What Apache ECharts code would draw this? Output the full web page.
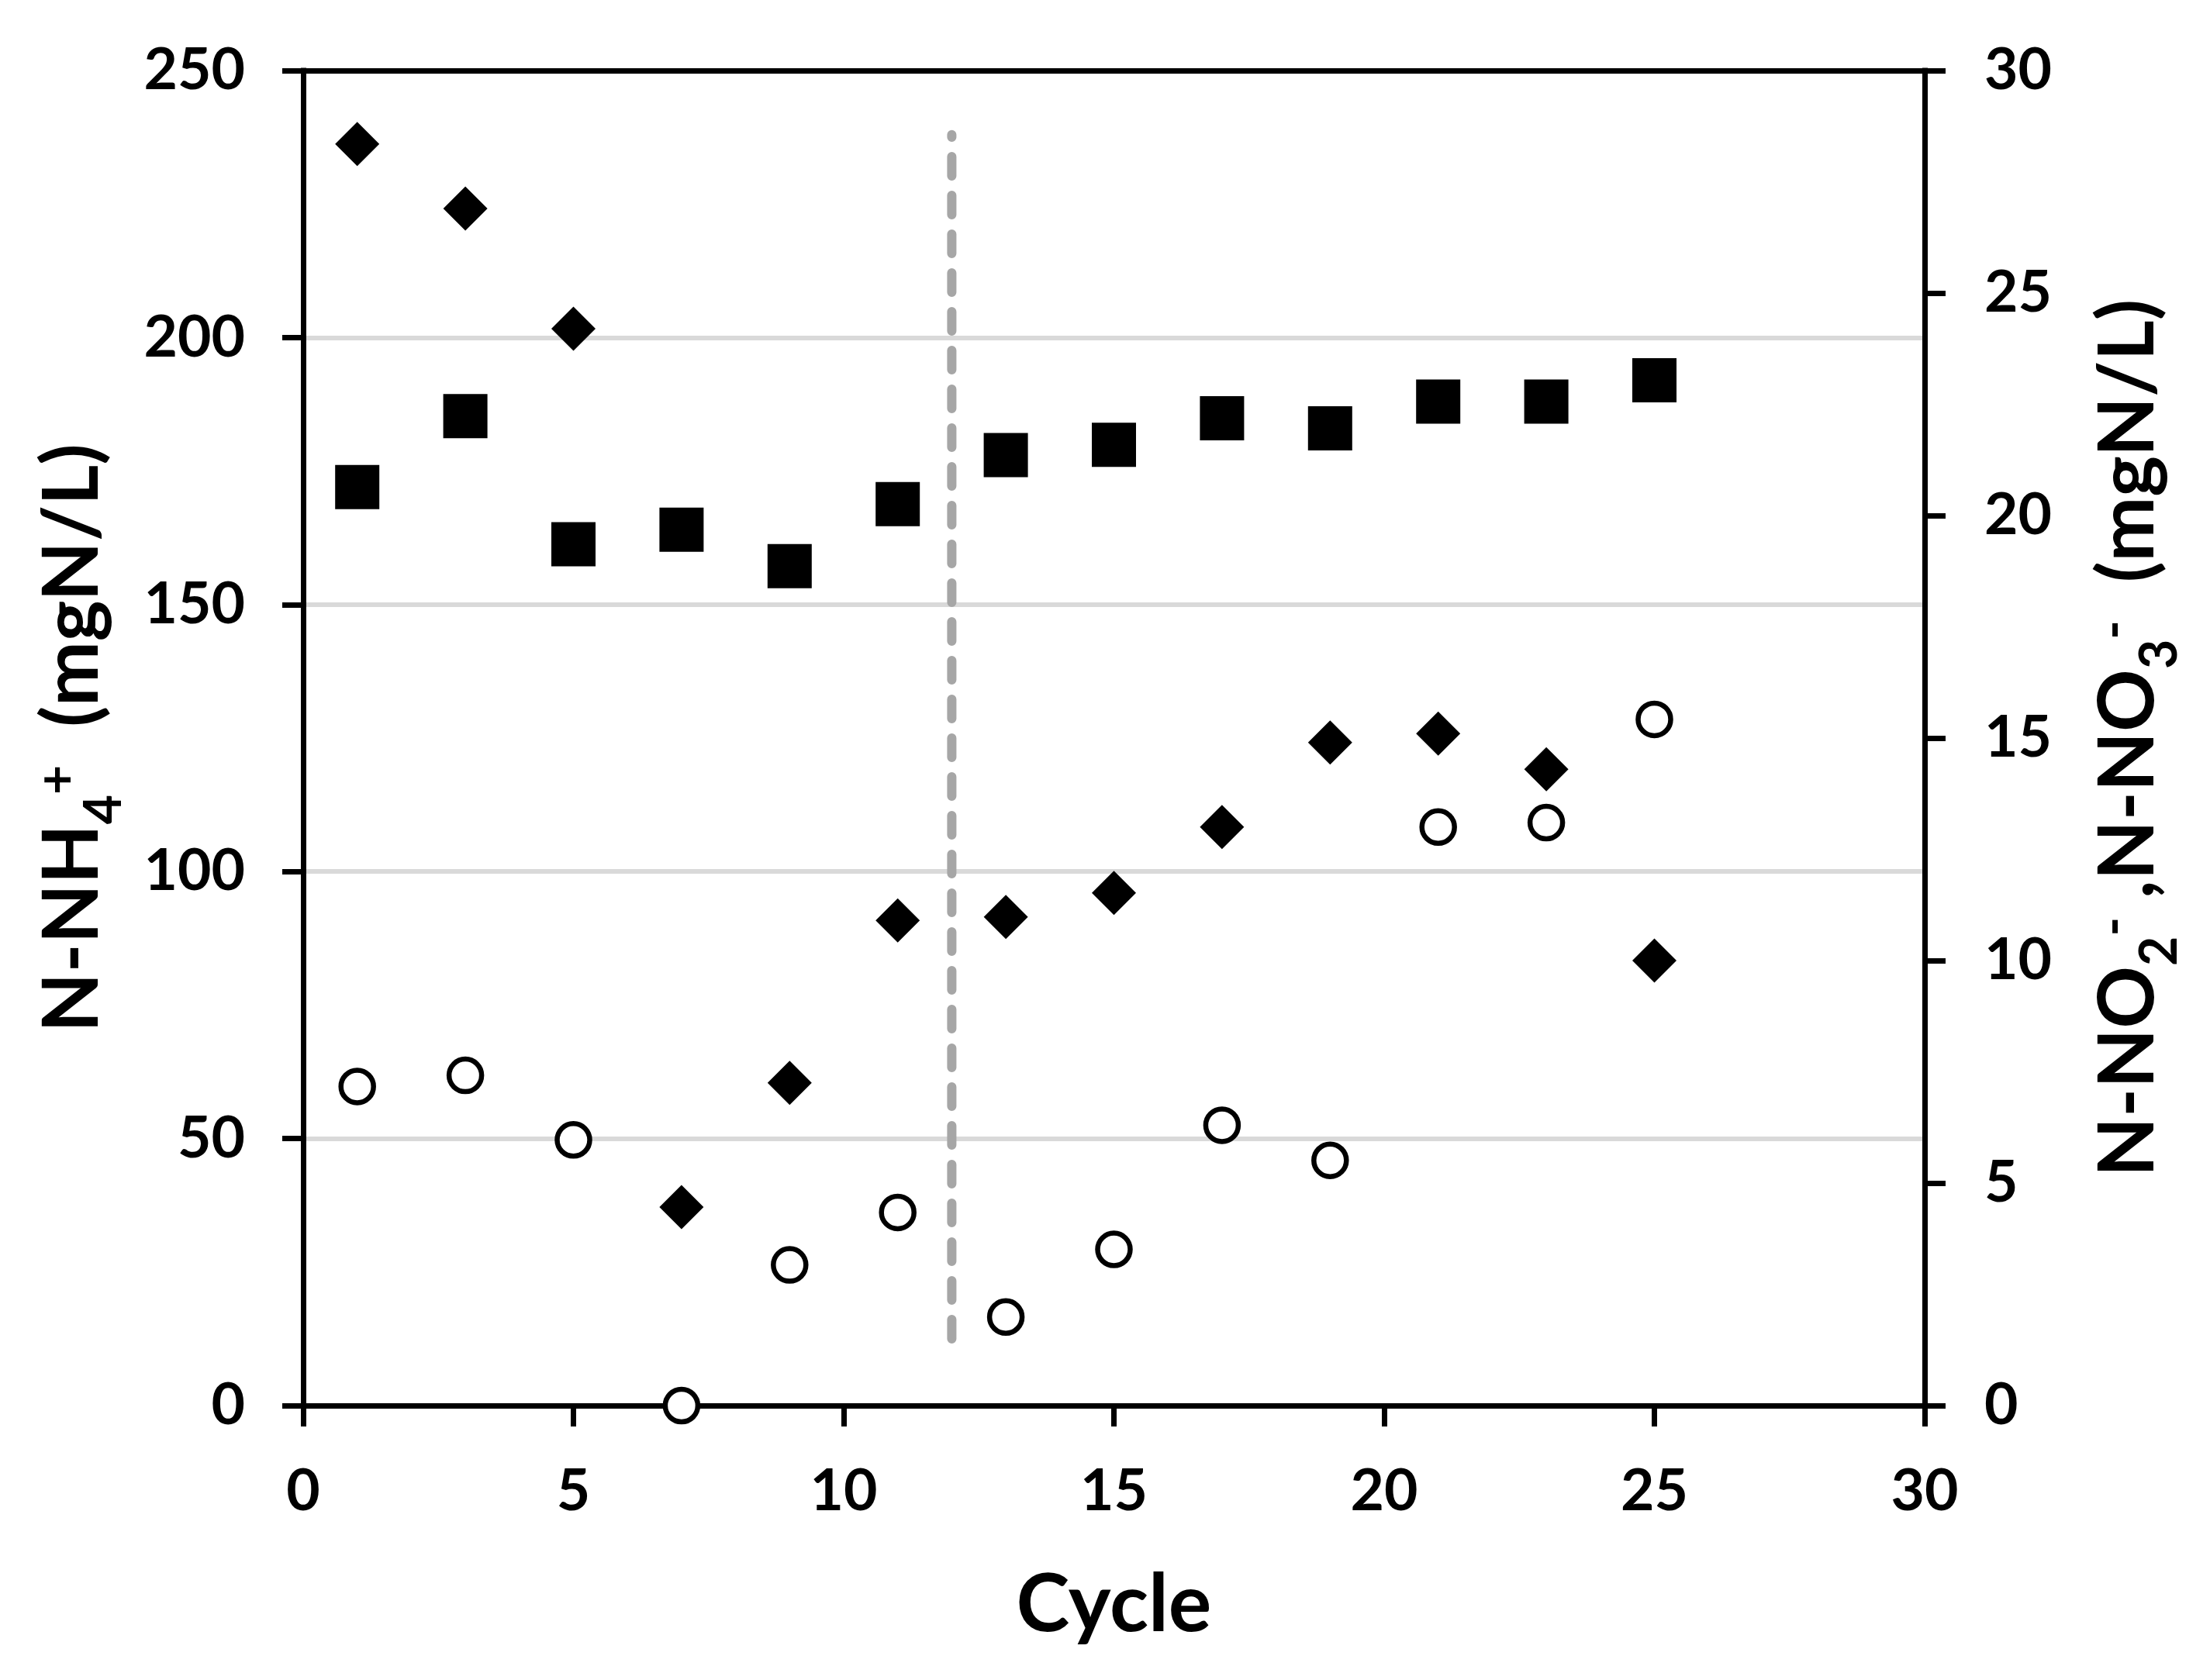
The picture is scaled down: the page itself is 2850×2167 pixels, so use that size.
<!DOCTYPE html>
<html>
<head>
<meta charset="utf-8">
<script src="https://cdn.jsdelivr.net/npm/echarts@6/dist/echarts.min.js"></script>
<style>
html,body{margin:0;padding:0;background:#fff;}
#chart{width:2850px;height:2167px;}
</style>
</head>
<body>
<div id="chart"></div>
<script>
// ---- data ----
var cycles = [1, 3, 5, 7, 9, 11, 13, 15, 17, 19, 21, 23, 25];
var nh4Values = [172, 185.3, 161.3, 164, 157.2, 168.8, 178, 179.9, 184.9, 183, 188, 188, 192];      // squares, left axis
var no2Values = [28.35, 26.9, 24.2, 4.46, 7.25, 10.9, 10.98, 11.52, 13.0, 14.9, 15.1, 14.3, 10.0];  // diamonds, right axis
var no3Values = [7.17, 7.42, 5.97, 0, 3.16, 4.34, 1.99, 3.51, 6.30, 5.51, 13.0, 13.1, 15.42];       // circles, right axis
var phaseChangeX = 12;
var phaseLineRange = [12.5, 238];
var xTicks = {min: 0, max: 30, interval: 5};
var leftTicks = {min: 0, max: 250, interval: 50};
var rightTicks = {min: 0, max: 30, interval: 5};

function pairs(xs, ys) { return xs.map(function (x, i) { return [x, ys[i]]; }); }

var FONT = 'Lato';
var axisLineStyle = {color: '#000', width: 7, cap: 'square'};
var tickStyle = {color: '#000', width: 7};
var labelStyle = {color: '#000', fontFamily: FONT, fontWeight: 'bold', fontSize: 75};

var titleRich = {
  t: {fontFamily: FONT, fontWeight: 'bold', fontSize: 100, color: '#000', verticalAlign: 'middle'},
  sub: {fontFamily: FONT, fontWeight: 'bold', fontSize: 66, color: '#000', verticalAlign: 'middle', padding: [82, 0, 0, 0]},
  sup: {fontFamily: FONT, fontWeight: 'bold', fontSize: 66, color: '#000', verticalAlign: 'middle', padding: [0, 0, 36, 0]}
};

var chart = echarts.init(document.getElementById('chart'), null, {renderer: 'canvas'});
chart.setOption({
  animation: false,
  backgroundColor: '#fff',
  grid: {left: 391, right: 368, top: 91, bottom: 354, containLabel: false},
  xAxis: [{
    type: 'value', position: 'bottom',
    min: xTicks.min, max: xTicks.max, interval: xTicks.interval,
    name: 'Cycle', nameLocation: 'middle', nameGap: 205,
    nameTextStyle: {fontFamily: FONT, fontWeight: 'bold', fontSize: 104, color: '#000'},
    axisLine: {show: true, onZero: false, lineStyle: axisLineStyle},
    axisTick: {show: true, inside: false, length: 27, lineStyle: tickStyle},
    axisLabel: Object.assign({margin: 73}, labelStyle),
    splitLine: {show: false}
  }, {
    type: 'value', position: 'top',
    min: xTicks.min, max: xTicks.max, interval: xTicks.interval,
    axisLine: {show: true, onZero: false, lineStyle: axisLineStyle},
    axisTick: {show: false}, axisLabel: {show: false}, splitLine: {show: false}
  }],
  yAxis: [{
    type: 'value', position: 'left',
    min: leftTicks.min, max: leftTicks.max, interval: leftTicks.interval,
    name: '{t|N-NH}{sub|4}{sup|+}{t|  (mgN/L)}',
    nameLocation: 'middle', nameRotate: 90, nameGap: 223,
    nameTextStyle: {rich: titleRich},
    axisLine: {show: true, onZero: false, lineStyle: axisLineStyle},
    axisTick: {show: true, inside: false, length: 27, lineStyle: tickStyle},
    axisLabel: Object.assign({margin: 75}, labelStyle),
    splitLine: {show: true, lineStyle: {color: '#d9d9d9', width: 6}}
  }, {
    type: 'value', position: 'right',
    min: rightTicks.min, max: rightTicks.max, interval: rightTicks.interval,
    name: '{t|N-NO}{sub|2}{sup|-}{t| ,N-NO}{sub|3}{sup|-}{t|  (mgN/L)}',
    nameLocation: 'middle', nameRotate: 90, nameGap: 189,
    nameTextStyle: {rich: titleRich},
    axisLine: {show: true, onZero: false, lineStyle: axisLineStyle},
    axisTick: {show: true, inside: false, length: 27, lineStyle: tickStyle},
    axisLabel: Object.assign({margin: 77}, labelStyle),
    splitLine: {show: false}
  }],
  series: [{
    type: 'line', xAxisIndex: 0, yAxisIndex: 0, silent: true,
    data: [[phaseChangeX, phaseLineRange[0]], [phaseChangeX, phaseLineRange[1]]],
    symbol: 'none',
    lineStyle: {color: '#a6a6a6', width: 12, type: [25, 25], cap: 'round', opacity: 1},
    z: 1
  }, {
    name: 'N-NH4+', type: 'scatter', xAxisIndex: 0, yAxisIndex: 0, clip: false,
    data: pairs(cycles, nh4Values),
    symbol: 'rect', symbolSize: 57,
    itemStyle: {color: '#000', opacity: 1}, z: 3
  }, {
    name: 'N-NO2-', type: 'scatter', xAxisIndex: 0, yAxisIndex: 1, clip: false,
    data: pairs(cycles, no2Values),
    symbol: 'diamond', symbolSize: 57,
    itemStyle: {color: '#000', opacity: 1}, z: 3
  }, {
    name: 'N-NO3-', type: 'scatter', xAxisIndex: 0, yAxisIndex: 1, clip: false,
    data: pairs(cycles, no3Values),
    symbol: 'circle', symbolSize: 42,
    itemStyle: {color: '#fff', borderColor: '#000', borderWidth: 6.5, opacity: 1}, z: 4
  }]
});
</script>
</body>
</html>
